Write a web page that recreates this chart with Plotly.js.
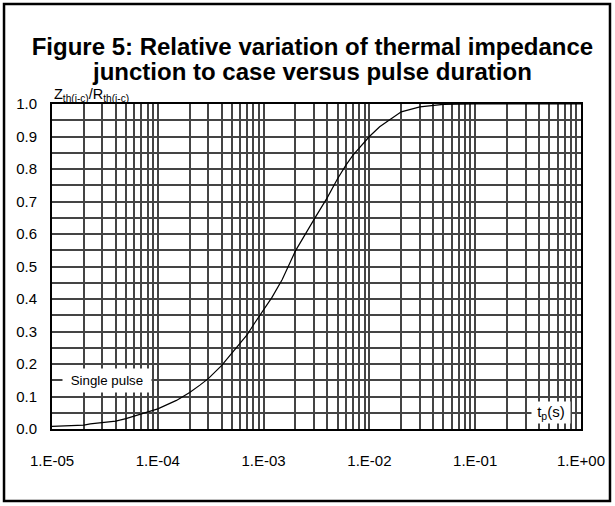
<!DOCTYPE html>
<html>
<head>
<meta charset="utf-8">
<script src="https://cdn.plot.ly/plotly-3.0.1.min.js"></script>
<style>
html,body{margin:0;padding:0;background:#fff;}
#chart{width:615px;height:506px;}
</style>
</head>
<body>
<div id="chart"></div>
<script>
// Pulse duration t_p (s)
const pulseDuration = [1e-5, 1.5e-5, 2e-5, 2.3e-5, 3e-5, 4e-5, 5e-5, 7e-5, 1e-4, 1.5e-4, 2e-4, 2.5e-4, 3e-4, 4e-4, 5e-4, 6e-4, 7e-4, 8e-4, 1e-3, 1.2e-3, 1.5e-3, 2e-3, 3e-3, 4e-3, 5e-3, 6e-3, 7e-3, 1e-2, 1.25e-2, 1.5e-2, 2e-2, 3e-2, 5e-2, 1e-1, 1];
// Zth(j-c)/Rth(j-c)
const relativeImpedance = [0.008, 0.010, 0.012, 0.016, 0.020, 0.024, 0.032, 0.046, 0.062, 0.088, 0.112, 0.135, 0.155, 0.195, 0.232, 0.262, 0.290, 0.320, 0.365, 0.405, 0.460, 0.548, 0.645, 0.712, 0.770, 0.812, 0.843, 0.900, 0.930, 0.948, 0.976, 0.991, 0.999, 1.0, 1.0];

const xDecades = [1e-5, 1e-4, 1e-3, 1e-2, 1e-1, 1];
const xDecadeLabels = ["1.E-05", "1.E-04", "1.E-03", "1.E-02", "1.E-01", "1.E+00"];
const yTickValues = [0, 0.1, 0.2, 0.3, 0.4, 0.5, 0.6, 0.7, 0.8, 0.9, 1.0];
const yTickLabels = ["0.0", "0.1", "0.2", "0.3", "0.4", "0.5", "0.6", "0.7", "0.8", "0.9", "1.0"];
const yMinorValues = [0.05, 0.15, 0.25, 0.35, 0.45, 0.55, 0.65, 0.75, 0.85, 0.95];

// minor log gridlines at 2..9 of each decade
const xMinorVals = [];
for (let d = 0; d < xDecades.length - 1; d++) {
  for (let m = 2; m <= 9; m++) xMinorVals.push(xDecades[d] * m);
}

const font = "Liberation Sans, Arial, Helvetica, sans-serif";
const gridColor = "#444";

const trace = {
  x: pulseDuration,
  y: relativeImpedance,
  type: "scatter",
  mode: "lines",
  line: {color: "#000", width: 1.2},
  hoverinfo: "skip",
  showlegend: false
};

const layout = {
  width: 615,
  height: 506,
  margin: {l: 52, r: 34, t: 104, b: 77},
  paper_bgcolor: "#fff",
  plot_bgcolor: "#fff",
  title: {
    text: "<span style=\"font-size:24px\"><b>Figure 5: Relative variation of thermal impedance</b></span><br><span style=\"font-size:24px\"><b>junction to case versus pulse duration</b></span>",
    font: {family: font, size: 19, color: "#000"},
    x: 0.508, xanchor: "center",
    y: 0.891, yanchor: "middle"
  },
  xaxis: {
    type: "log",
    range: [-5, 0],
    tickmode: "array",
    tickvals: xDecades,
    ticktext: xDecadeLabels,
    ticks: "",
    showgrid: true,
    gridcolor: gridColor,
    gridwidth: 2,
    minor: {tickmode: "array", tickvals: xMinorVals, showgrid: true, gridcolor: gridColor, gridwidth: 2, ticks: ""},
    showline: true,
    linecolor: "#000",
    linewidth: 2,
    mirror: true,
    zeroline: false,
    tickfont: {family: font, size: 15, color: "#000"},
    ticklabelstandoff: 17
  },
  yaxis: {
    range: [0, 1],
    tickmode: "array",
    tickvals: yTickValues,
    ticktext: yTickLabels,
    ticks: "",
    showgrid: true,
    gridcolor: gridColor,
    gridwidth: 2,
    minor: {tickmode: "array", tickvals: yMinorValues, showgrid: true, gridcolor: gridColor, gridwidth: 2, ticks: ""},
    showline: true,
    linecolor: "#000",
    linewidth: 2,
    mirror: true,
    zeroline: false,
    tickfont: {family: font, size: 15, color: "#000"},
    ticklabelstandoff: 10
  },
  shapes: [
    {type: "rect", xref: "paper", yref: "paper",
     x0: -0.0907, x1: 1.0548, y0: -0.2215, y1: 1.3077,
     line: {color: "#000", width: 2.5}, fillcolor: "rgba(0,0,0,0)", layer: "below"}
  ],
  annotations: [
    {xref: "paper", yref: "paper", x: 0.0, y: 1.0, xanchor: "left", yanchor: "bottom",
     text: "Z<sub>th(j-c)</sub>/R<sub>th(j-c)</sub>", showarrow: false,
     font: {family: font, size: 14.5, color: "#000"}, xshift: 0, yshift: -2},
    {xref: "x", yref: "y", x: Math.log10(3.3e-5), y: 0.15, xanchor: "center", yanchor: "middle",
     text: "&nbsp;Single pulse&nbsp;", showarrow: false, bgcolor: "#fff",
     font: {family: font, size: 13.3, color: "#000"}, borderpad: 4},
    {xref: "x", yref: "y", x: Math.log10(0.52), y: 0.05, xanchor: "center", yanchor: "middle",
     text: "&nbsp;t<sub>p</sub>(s)&nbsp;", showarrow: false, bgcolor: "#fff",
     font: {family: font, size: 15, color: "#000"}, borderpad: 1}
  ]
};

Plotly.newPlot("chart", [trace], layout, {displayModeBar: false, staticPlot: true});
</script>
</body>
</html>
